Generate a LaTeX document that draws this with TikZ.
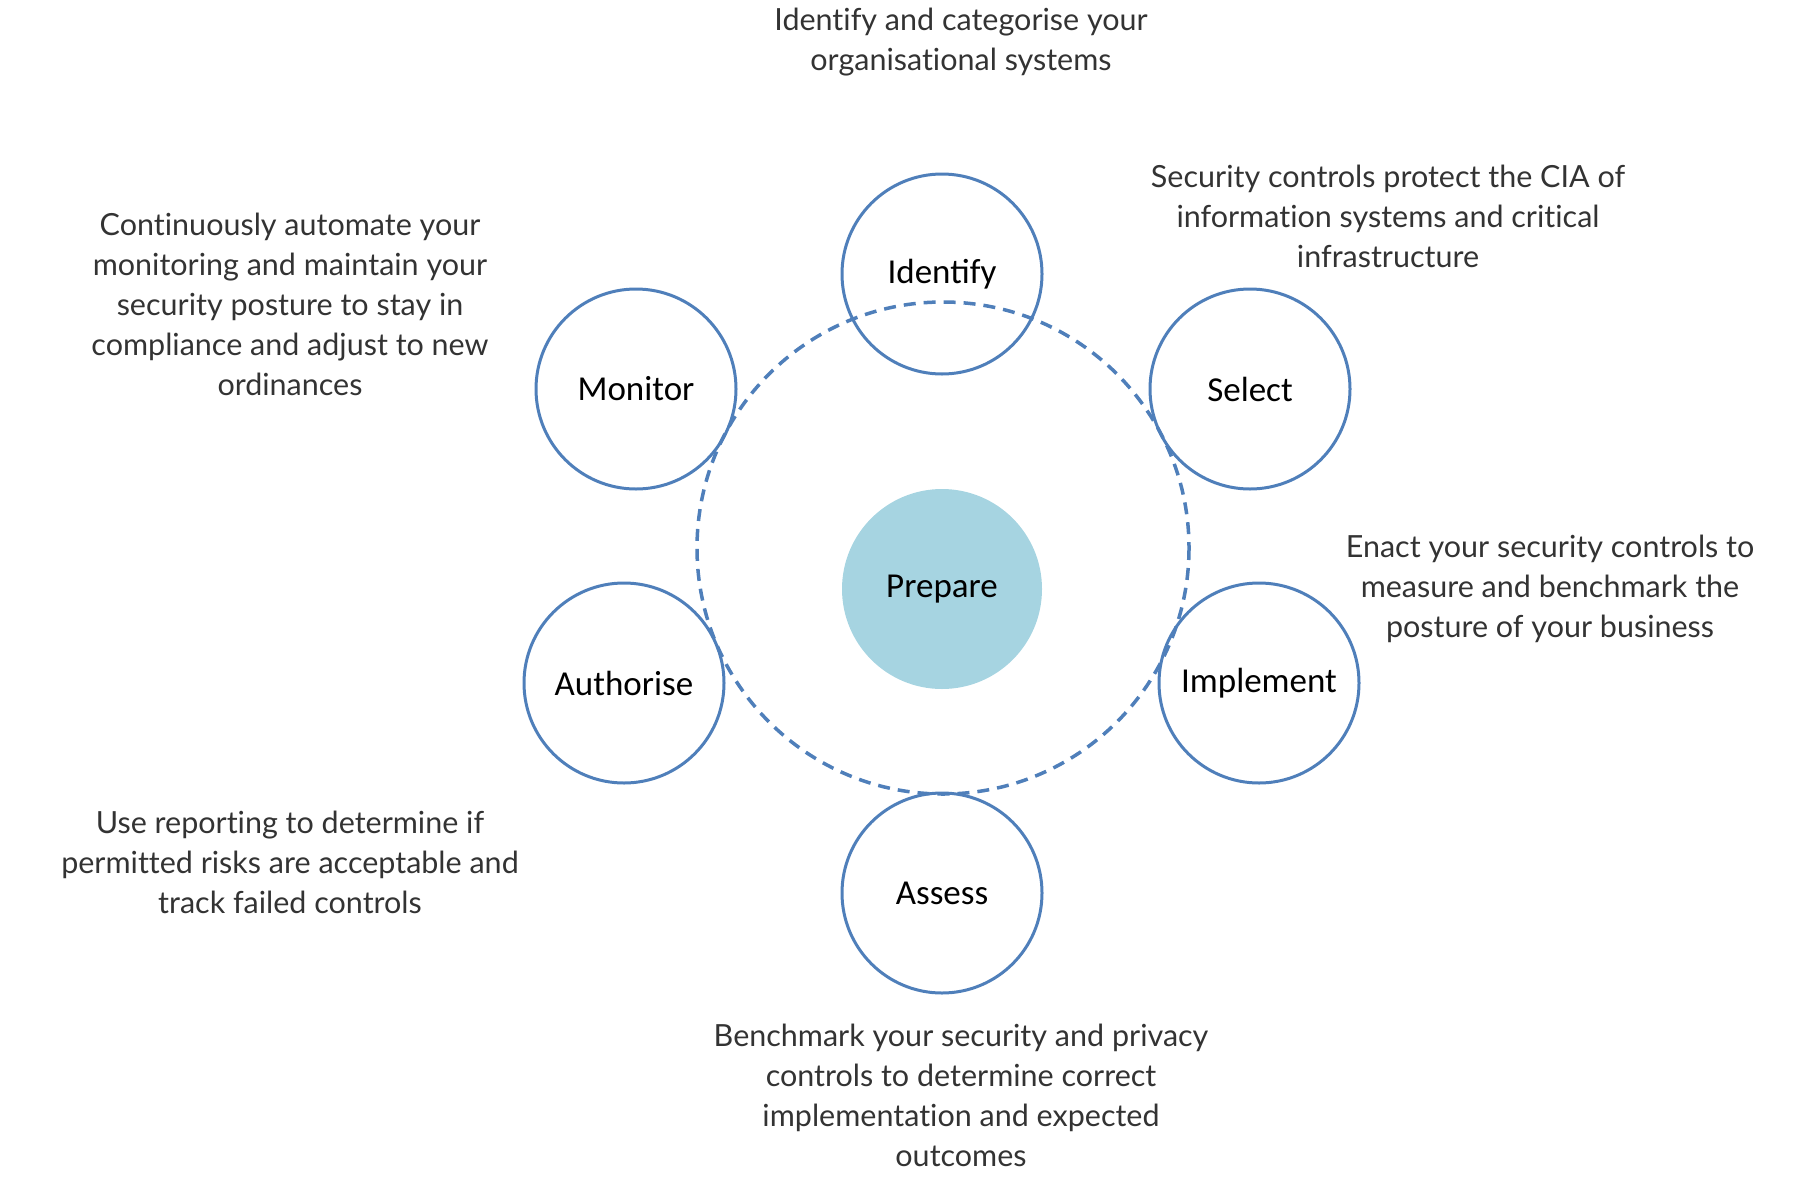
\documentclass[tikz,border=0pt]{standalone}
\usepackage{fontspec}
\setmainfont{Lato}[Ligatures=NoCommon]
\newfontfamily\stepfont{Carlito}
\usetikzlibrary{positioning}

\definecolor{ringblue}{HTML}{4F7FBA}
\definecolor{prepfill}{HTML}{A6D4E1}
\definecolor{notegray}{HTML}{333333}

\begin{document}
\begin{tikzpicture}[x=1pt,y=-1pt,
  phase/.style={circle, draw=ringblue, line width=3pt,
    minimum size=200pt, inner sep=0pt, font=\stepfont\fontsize{35}{40}\selectfont},
  core/.style={circle, fill=prepfill, minimum size=200pt, inner sep=0pt,
    font=\stepfont\fontsize{35}{40}\selectfont},
  note/.style={align=center, text=notegray, font=\fontsize{30.5}{40}\selectfont}]

\useasboundingbox (0,0) rectangle (1806,1178);

% dashed ring behind the phases
  \draw[ringblue, line width=3.5pt, dash pattern=on 12pt off 8pt] (943,548) circle (246);

% define the phases
  \node[core]  (prep) at (942,589) {Prepare};
  \node[phase] (id)   at (942,274) {Identify};
  \node[phase] (sel)  at (1250,389) {Select};
  \node[phase] (impl) at (1259,683) {Implement};
  \node[phase] (ass)  at (942,893) {Assess};
  \node[phase] (auth) at (624,683) {Authorise};
  \node[phase] (mon)  at (636,389) {Monitor};

% define the notes
  \node[note] (idnote)   at (961,42)   {Identify and categorise your\\organisational systems};
  \node[note] (selnote)  at (1388,216) {Security controls protect the CIA of\\information systems and critical\\infrastructure};
  \node[note] (monnote)  at (290,304)  {Continuously automate your\\monitoring and maintain your\\security posture to stay in\\compliance and adjust to new\\ordinances};
  \node[note] (implnote) at (1550,589) {Enact your security controls to\\measure and benchmark the\\posture of your business};
  \node[note] (authnote) at (290,862)  {Use reporting to determine if\\permitted risks are acceptable and\\track failed controls};
  \node[note] (assnote)  at (961,1095) {Benchmark your security and privacy\\controls to determine correct\\implementation and expected\\outcomes};

\end{tikzpicture}
\end{document}
